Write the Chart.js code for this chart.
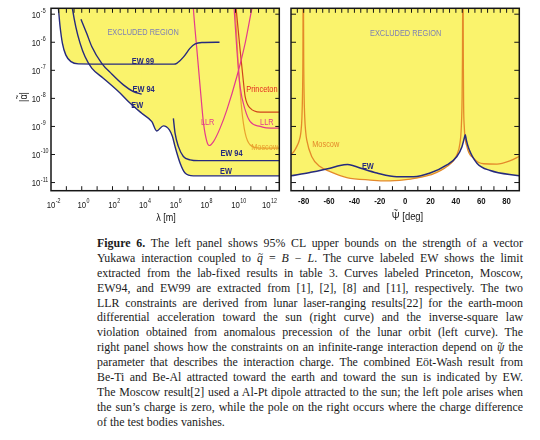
<!DOCTYPE html>
<html>
<head>
<meta charset="utf-8">
<script src="https://cdn.jsdelivr.net/npm/chart.js@4.4.1/dist/chart.umd.min.js"></script>
<style>
  html, body { margin: 0; padding: 0; background: #fff; }
  body { width: 540px; height: 440px; position: relative; overflow: hidden; }
  #leftPanel { position: absolute; left: 0; top: 0; }
  #rightPanel { position: absolute; left: 280px; top: 0; }
  #caption {
    position: absolute; left: 97px; top: 236px; width: 426px;
    font-family: "Liberation Serif", "DejaVu Serif", serif;
    font-size: 11.9px; line-height: 14.87px; color: #1a1a1a;
  }
  #caption div { white-space: nowrap; text-align: justify; text-align-last: justify; }
  #caption div.last { text-align-last: left; }
  .acc { position: relative; display: inline-block; }
  .acc::after { content: '~'; position: absolute; left: 0.12em; top: -0.42em; font-style: normal; font-size: 0.8em; }
</style>
</head>
<body>
<canvas id="leftPanel" width="285" height="225"></canvas>
<canvas id="rightPanel" width="260" height="225"></canvas>
<div id="caption">
  <div><b>Figure 6.</b> The left panel shows 95% CL upper bounds on the strength of a vector</div>
  <div>Yukawa interaction coupled to <i class="acc">q</i> = <i>B</i> − <i>L</i>. The curve labeled EW shows the limit</div>
  <div>extracted from the lab-fixed results in table 3. Curves labeled Princeton, Moscow,</div>
  <div>EW94, and EW99 are extracted from [1], [2], [8] and [11], respectively. The two</div>
  <div>LLR constraints are derived from lunar laser-ranging results[22] for the earth-moon</div>
  <div>differential acceleration toward the sun (right curve) and the inverse-square law</div>
  <div>violation obtained from anomalous precession of the lunar orbit (left curve). The</div>
  <div>right panel shows how the constraints on an infinite-range interaction depend on <i class="acc">ψ</i> the</div>
  <div>parameter that describes the interaction charge. The combined Eöt-Wash result from</div>
  <div>Be-Ti and Be-Al attracted toward the earth and toward the sun is indicated by EW.</div>
  <div>The Moscow result[2] used a Al-Pt dipole attracted to the sun; the left pole arises when</div>
  <div>the sun’s charge is zero, while the pole on the right occurs where the charge difference</div>
  <div class="last">of the test bodies vanishes.</div>
</div>
<script>
// left panel curves: [log10 λ (m), log10 |α|]
const ew99 = [[-1.56, -4.6], [-1.52, -4.79], [-1.41, -5.44], [-1.26, -6.03], [-1.04, -6.45],
  [-0.70, -6.69], [-0.22, -6.77], [3.0, -6.78], [6.0, -6.78], [6.18, -6.75], [6.61, -6.53],
  [7.05, -6.21], [7.38, -6.06], [7.81, -6.01], [8.96, -6.0]];
const ew94Short = [[-0.05, -5.18], [0.32, -5.68], [0.65, -6.15], [1.30, -6.75], [1.95, -7.13],
  [2.71, -7.52], [3.36, -7.76], [3.90, -7.85]];
const ewLab = [[-0.66, -4.6], [-0.61, -4.79], [-0.39, -5.44], [-0.11, -6.03], [0.21, -6.51],
  [0.65, -6.92], [1.40, -7.28], [2.49, -7.81], [3.03, -8.11], [3.90, -8.53], [4.56, -8.83],
  [4.88, -9.16], [5.31, -8.98], [5.70, -9.12], [5.90, -9.36], [6.07, -9.72], [6.40, -10.31],
  [6.72, -10.66], [7.26, -10.76], [9.0, -10.76], [12.9, -10.76]];
const ew94Long = [[5.96, -8.71], [6.07, -9.24], [6.29, -9.72], [6.61, -10.07], [7.05, -10.19],
  [7.6, -10.22], [12.9, -10.22]];
const llrLeft = [[7.24, -4.6], [7.26, -4.79], [7.49, -6.27], [7.70, -7.58], [7.92, -8.88],
  [8.14, -9.54], [8.29, -9.68], [8.57, -9.54], [9.0, -9.06], [9.44, -8.41], [10.09, -7.22],
  [10.63, -6.03], [11.07, -4.79], [11.15, -4.6]];
const llrRight = [[9.88, -4.6], [9.91, -4.79], [10.09, -6.27], [10.30, -7.58], [10.63, -8.41],
  [10.96, -8.83], [11.61, -9.0], [12.0, -9.05], [12.9, -9.06]];
const princeton = [[10.0, -4.6], [10.04, -4.79], [10.30, -6.27], [10.48, -7.22], [10.63, -7.94],
  [10.96, -8.35], [11.61, -8.49], [12.9, -8.49]];
const moscowLambda = [[9.95, -4.6], [9.98, -4.79], [10.19, -6.87], [10.41, -8.41], [10.63, -9.24],
  [10.96, -9.66], [11.61, -9.77], [12.9, -9.77]];

// right panel curves: [ψ (deg), log10 |α|]
const moscowPsiLeft = [[-90, -10.01], [-87.5, -9.88], [-85.5, -9.72], [-83.5, -9.5], [-82.3, -9.24],
  [-81.4, -8.7], [-80.9, -7.8], [-80.6, -6.5], [-80.45, -4.6]];
const moscowPsiMid = [[-80.15, -4.6], [-80.0, -6.5], [-79.7, -7.8], [-79.2, -8.65], [-78.4, -9.2],
  [-77.6, -9.48], [-73.7, -10.07], [-67.1, -10.43], [-59.2, -10.61], [-46.0, -10.82],
  [-27.6, -10.91], [-11.8, -10.94], [4.0, -10.88], [19.7, -10.73], [32.9, -10.43],
  [40.8, -10.01], [43.2, -9.6], [44.3, -9.0], [44.9, -8.0], [45.2, -6.5], [45.35, -4.6]];
const moscowPsiRight = [[45.7, -4.6], [45.85, -6.5], [46.1, -8.2], [46.6, -9.0], [48.7, -9.72],
  [53.9, -10.13], [61.8, -10.33], [72.4, -10.34], [82.9, -10.22], [90, -10.07]];
const ewPsi = [[-90, -10.76], [-75, -10.64], [-59.2, -10.49], [-51.3, -10.39], [-45.5, -10.36],
  [-40.8, -10.40], [-32.9, -10.52], [-22.3, -10.66], [-6.6, -10.79], [6.6, -10.79],
  [19.7, -10.66], [32.9, -10.37], [40.8, -10.07], [44.8, -9.72], [46.6, -9.42], [47.4, -9.30],
  [48.2, -9.48], [50.0, -9.77], [56.6, -10.31], [67.1, -10.57], [90, -10.76]];

// ticks
const lambdaDecades = [-2, -1, 0, 1, 2, 3, 4, 5, 6, 7, 8, 9, 10, 11, 12];
const lambdaHalfDecades = lambdaDecades.flatMap(e => [e, e + 0.5]);
const alphaDecades = [-5, -6, -7, -8, -9, -10, -11];
const psiTicks = [-80, -70, -60, -50, -40, -30, -20, -10, 0, 10, 20, 30, 40, 50, 60, 70, 80];
const psiMinorTicks = psiTicks.flatMap(v => [v - 5, v]).concat([85]);

const FILL = '#faf36c';
const NAVY = '#262a7e';
const PINK = '#e33b8c';
const RED = '#d0441a';
const ORANGE = '#e9a12e';
const ORANGE_DARK = '#e4892a';
const SLATE = '#7e80b4';
const INK = '#161616';
const SANS = '"Liberation Sans", Arial, sans-serif';
const SQUEEZE = 0.82;

function logPoints(pairs) { return pairs.map(([a, b]) => ({ x: 10 ** a, y: 10 ** b })); }
function psiPoints(pairs) { return pairs.map(([a, b]) => ({ x: a, y: 10 ** b })); }

function curve(label, data, color, width) {
  return {
    label, data,
    borderColor: color, borderWidth: width,
    backgroundColor: FILL, fill: 'end',
    pointRadius: 0, cubicInterpolationMode: 'monotone'
  };
}

function drawText(ctx, str, x, y, font, color, align) {
  ctx.save();
  ctx.translate(x, y);
  ctx.scale(SQUEEZE, 1);
  ctx.font = font;
  ctx.fillStyle = color;
  ctx.textAlign = align;
  ctx.textBaseline = 'middle';
  ctx.fillText(str, 0, 0);
  ctx.restore();
}

// before + glyph (with a small tilde over it) + after, centred on x
function drawAccented(ctx, before, glyph, after, x, y, font) {
  ctx.save();
  ctx.translate(x, y);
  ctx.scale(SQUEEZE, 1);
  ctx.font = font;
  ctx.fillStyle = INK;
  ctx.textBaseline = 'middle';
  ctx.textAlign = 'left';
  const wb = ctx.measureText(before).width;
  const wg = ctx.measureText(glyph).width;
  const total = wb + wg + ctx.measureText(after).width;
  const x0 = -total / 2;
  ctx.fillText(before, x0, 0);
  ctx.fillText(glyph, x0 + wb, 0);
  ctx.fillText(after, x0 + wb + wg, 0);
  ctx.font = `9px ${SANS}`;
  ctx.textAlign = 'center';
  ctx.fillText('~', x0 + wb + wg / 2, -6.5);
  ctx.restore();
}

// "10" with a raised exponent
function drawPower(ctx, exp, x, y, anchor) {
  ctx.save();
  ctx.translate(x, y);
  ctx.scale(SQUEEZE, 1);
  ctx.fillStyle = INK;
  ctx.textBaseline = 'middle';
  ctx.textAlign = 'left';
  ctx.font = `9.5px ${SANS}`;
  const w = ctx.measureText('10').width;
  const x0 = anchor === 'center' ? -w / 2 : 0;
  ctx.fillText('10', x0, 0);
  ctx.font = `6.5px ${SANS}`;
  ctx.fillText(String(exp), x0 + w + 0.6, -4);
  ctx.restore();
}

function decor(cfg) {
  return {
    id: 'decor',
    afterDatasetsDraw(chart) {
      const { ctx, chartArea: a, scales } = chart;
      ctx.save();
      ctx.strokeStyle = INK;
      ctx.lineWidth = 1;
      ctx.beginPath();
      ['x', 'x2'].forEach(id => {
        const s = scales[id];
        s.ticks.forEach(t => {
          const px = s.getPixelForValue(t.value);
          if (px <= a.left + 1 || px >= a.right - 1) return;
          if (s.position === 'bottom') { ctx.moveTo(px, a.bottom); ctx.lineTo(px, a.bottom - cfg.xTick); }
          else { ctx.moveTo(px, a.top); ctx.lineTo(px, a.top + cfg.xTick); }
        });
      });
      ['y', 'y2'].forEach(id => {
        const s = scales[id];
        s.ticks.forEach(t => {
          const py = s.getPixelForValue(t.value);
          if (py <= a.top + 1 || py >= a.bottom - 1) return;
          if (s.position === 'left') { ctx.moveTo(a.left, py); ctx.lineTo(a.left + cfg.yTick, py); }
          else { ctx.moveTo(a.right, py); ctx.lineTo(a.right - cfg.yTick, py); }
        });
      });
      ctx.stroke();
      ctx.lineWidth = 1.5;
      ctx.strokeRect(a.left, a.top, a.right - a.left, a.bottom - a.top);
      ctx.restore();
    },
    afterDraw(chart) {
      const { ctx, scales } = chart;
      cfg.labels(ctx, scales);
      cfg.notes.forEach(n => {
        const x = scales.x.getPixelForValue(cfg.logX ? 10 ** n.at[0] : n.at[0]);
        const y = scales.y.getPixelForValue(10 ** n.at[1]);
        drawText(ctx, n.text, x, y, `${n.bold ? 'bold ' : ''}9px ${SANS}`, n.color, 'center');
      });
    }
  };
}

function hiddenAxis(extra) {
  return Object.assign({
    grid: { display: false },
    border: { display: false },
    ticks: { display: false }
  }, extra);
}

const alphaMin = 10 ** -11.29;
const alphaMax = 10 ** -4.79;
const alphaTicks = s => { s.ticks = alphaDecades.map(e => ({ value: 10 ** e })); };

const leftNotes = [
  { text: 'EXCLUDED REGION', at: [3.99, -5.67], color: SLATE },
  { text: 'EW 99', at: [3.98, -6.69], color: NAVY, bold: true },
  { text: 'EW 94', at: [4.02, -7.67], color: NAVY, bold: true },
  { text: 'EW', at: [3.61, -8.27], color: NAVY, bold: true },
  { text: 'LLR', at: [8.19, -8.86], color: PINK },
  { text: 'Princeton', at: [11.72, -7.67], color: '#e3281e' },
  { text: 'LLR', at: [12.04, -8.86], color: PINK },
  { text: 'Moscow', at: [11.9, -9.74], color: ORANGE },
  { text: 'EW 94', at: [9.74, -9.98], color: NAVY, bold: true },
  { text: 'EW', at: [9.38, -10.61], color: NAVY, bold: true }
];
const rightNotes = [
  { text: 'EXCLUDED REGION', at: [0.4, -5.68], color: SLATE },
  { text: 'Moscow', at: [-62.6, -9.63], color: ORANGE_DARK },
  { text: 'EW', at: [-29.4, -10.43], color: NAVY, bold: true }
];

new Chart(document.getElementById('leftPanel'), {
  type: 'line',
  data: {
    datasets: [
      curve('EW 99', logPoints(ew99), NAVY, 1.4),
      curve('EW 94', logPoints(ew94Short), NAVY, 1.4),
      curve('EW', logPoints(ewLab), NAVY, 1.4),
      curve('EW 94', logPoints(ew94Long), NAVY, 1.4),
      curve('LLR', logPoints(llrLeft), PINK, 1.2),
      curve('LLR', logPoints(llrRight), PINK, 1.2),
      curve('Princeton', logPoints(princeton), RED, 1.2),
      curve('Moscow', logPoints(moscowLambda), ORANGE, 1.2)
    ]
  },
  options: {
    responsive: false,
    animation: false,
    layout: { padding: 0 },
    plugins: { legend: { display: false }, tooltip: { enabled: false }, filler: { drawTime: 'beforeDatasetsDraw' } },
    scales: {
      x: hiddenAxis({
        type: 'logarithmic', position: 'bottom', min: 1e-2, max: 10 ** 12.85,
        afterBuildTicks: s => { s.ticks = lambdaDecades.map(e => ({ value: 10 ** e })); },
        afterFit: s => { s.height = 34.3; }
      }),
      x2: hiddenAxis({
        type: 'logarithmic', position: 'top', min: 1e-2, max: 10 ** 12.85,
        afterBuildTicks: s => { s.ticks = lambdaHalfDecades.map(e => ({ value: 10 ** e })); },
        afterFit: s => { s.height = 8.3; }
      }),
      y: hiddenAxis({
        type: 'logarithmic', position: 'left', min: alphaMin, max: alphaMax,
        afterBuildTicks: alphaTicks,
        afterFit: s => { s.width = 51; }
      }),
      y2: hiddenAxis({
        type: 'logarithmic', position: 'right', min: alphaMin, max: alphaMax,
        afterBuildTicks: alphaTicks,
        afterFit: s => { s.width = 5.7; }
      })
    }
  },
  plugins: [decor({
    logX: true, xTick: 4.5, yTick: 4,
    notes: leftNotes,
    labels(ctx, scales) {
      lambdaDecades.filter(e => e % 2 === 0).forEach(e => {
        drawPower(ctx, e, scales.x.getPixelForValue(10 ** e), 205.7, 'center');
      });
      alphaDecades.forEach(e => {
        drawPower(ctx, e, 31.7, scales.y.getPixelForValue(10 ** e) + 1.2, 'left');
      });
      drawText(ctx, 'λ [m]', 166, 218, `11px ${SANS}`, INK, 'center');
      ctx.save();
      ctx.translate(24, 97);
      ctx.rotate(-Math.PI / 2);
      drawAccented(ctx, '|', 'α', '|', 0, 0, `11px ${SANS}`);
      ctx.restore();
    }
  })]
});

new Chart(document.getElementById('rightPanel'), {
  type: 'line',
  data: {
    datasets: [
      curve('EW', psiPoints(ewPsi), NAVY, 1.5),
      curve('Moscow', psiPoints(moscowPsiLeft), ORANGE_DARK, 1.3),
      curve('Moscow', psiPoints(moscowPsiMid), ORANGE_DARK, 1.3),
      curve('Moscow', psiPoints(moscowPsiRight), ORANGE_DARK, 1.3)
    ]
  },
  options: {
    responsive: false,
    animation: false,
    layout: { padding: 0 },
    plugins: { legend: { display: false }, tooltip: { enabled: false }, filler: { drawTime: 'beforeDatasetsDraw' } },
    scales: {
      x: hiddenAxis({
        type: 'linear', position: 'bottom', min: -90, max: 90,
        afterBuildTicks: s => { s.ticks = psiTicks.map(v => ({ value: v })); },
        afterFit: s => { s.height = 34.3; }
      }),
      x2: hiddenAxis({
        type: 'linear', position: 'top', min: -90, max: 90,
        afterBuildTicks: s => { s.ticks = psiMinorTicks.map(v => ({ value: v })); },
        afterFit: s => { s.height = 8.3; }
      }),
      y: hiddenAxis({
        type: 'logarithmic', position: 'left', min: alphaMin, max: alphaMax,
        afterBuildTicks: alphaTicks,
        afterFit: s => { s.width = 11; }
      }),
      y2: hiddenAxis({
        type: 'logarithmic', position: 'right', min: alphaMin, max: alphaMax,
        afterBuildTicks: alphaTicks,
        afterFit: s => { s.width = 20.7; }
      })
    }
  },
  plugins: [decor({
    logX: false, xTick: 4.5, yTick: 5,
    notes: rightNotes,
    labels(ctx, scales) {
      psiTicks.filter(v => v % 20 === 0).forEach(v => {
        drawText(ctx, String(v), scales.x.getPixelForValue(v), 201.3, `bold 9.5px ${SANS}`, INK, 'center');
      });
      drawAccented(ctx, '', 'Ψ', ' [deg]', 127.5, 217, `11.5px ${SANS}`);
    }
  })]
});
</script>
</body>
</html>
